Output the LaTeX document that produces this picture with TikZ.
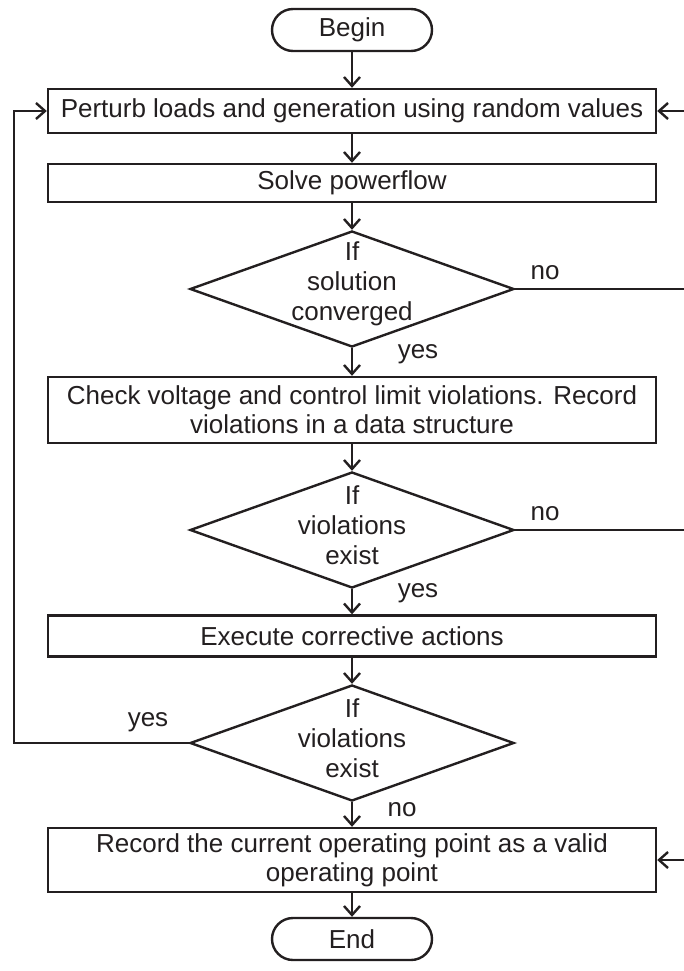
\documentclass[tikz,border=0pt]{standalone}
\usepackage{fontspec}
\setmainfont{Liberation Sans}
\usetikzlibrary{arrows.meta,shapes.geometric}
\definecolor{ink}{HTML}{231F20}
\begin{document}
\begin{tikzpicture}[x=1pt,y=-1pt,
  every node/.style={font=\fontsize{26}{29}\selectfont, text=ink},
  flowline/.style={draw=ink, line width=2.4pt},
  flowarrow/.style={flowline, -{Straight Barb[length=9pt,width=16pt]}},
  procbox/.style={flowline, rectangle, minimum width=608pt, inner sep=0pt, align=center},
  termbox/.style={flowline, rectangle, rounded corners=21pt, minimum width=160pt, minimum height=42pt, inner sep=0pt},
  decshape/.style={flowline, diamond, minimum width=324pt, minimum height=116pt, inner sep=0pt},
  dectext/.style={align=center, inner sep=0pt, font=\fontsize{26}{30}\selectfont},
  lbl/.style={inner sep=0pt}]
  % page
  \useasboundingbox (0,0) rectangle (684,971);
  \fill[white] (0,0) rectangle (684,971);

  % terminals and process boxes
  \node[termbox] (begin) at (352,30) {Begin};
  \node[procbox, minimum height=44pt] (perturb) at (352,111) {Perturb loads and generation using random values};
  \node[procbox, minimum height=38pt] (solve) at (352,183) {Solve powerflow};
  \node[decshape] (conv) at (352,289) {};
  \node[dectext] (convt) at (352,284) {If\\solution\\converged};
  \node[procbox, minimum height=66pt] (check) at (352,410) {Check voltage and control limit violations. Record\\violations in a data structure};
  \node[decshape] (viol) at (352,530) {};
  \node[dectext] (violt) at (352,525) {If\\violations\\exist};
  \node[procbox, minimum height=41pt] (exec) at (352,636) {Execute corrective actions};
  \node[decshape] (viol2) at (352,743) {};
  \node[dectext] (viol2t) at (352,738) {If\\violations\\exist};
  \node[procbox, minimum height=64pt] (record) at (352,860) {Record the current operating point as a valid\\operating point};
  \node[termbox] (end) at (352,939) {End};

  % main flow
  \draw[flowarrow] (begin) -- (perturb);
  \draw[flowarrow] (perturb) -- (solve);
  \draw[flowarrow] (solve) -- (conv.north);
  \draw[flowarrow] (conv.south) -- (check);
  \draw[flowarrow] (check) -- (viol.north);
  \draw[flowarrow] (viol.south) -- (exec);
  \draw[flowarrow] (exec) -- (viol2.north);
  \draw[flowarrow] (viol2.south) -- (record);
  \draw[flowarrow] (record) -- (end);

  % branch labels
  \node[lbl] (no1) at (545,273) {no};
  \node[lbl] (yes1) at (418,354) {yes};
  \node[lbl] (no2) at (545,514) {no};
  \node[lbl] (yes2) at (418,593) {yes};
  \node[lbl] (yes3) at (148,722) {yes};
  \node[lbl] (no3) at (402,810) {no};

  % loop back to the perturbation step
  \coordinate (loop) at (14,743);
  \draw[flowarrow] (viol2.west) -- (loop) |- (perturb.west);

  % branches leaving and entering at the right edge
  \coordinate (out1) at (684,289);
  \coordinate (out2) at (684,530);
  \coordinate (in1) at (684,111);
  \coordinate (in2) at (684,860);
  \draw[flowline] (conv.east) -- (out1);
  \draw[flowline] (viol.east) -- (out2);
  \draw[flowarrow] (in1) -- (perturb.east);
  \draw[flowarrow] (in2) -- (record.east);
\end{tikzpicture}
\end{document}
